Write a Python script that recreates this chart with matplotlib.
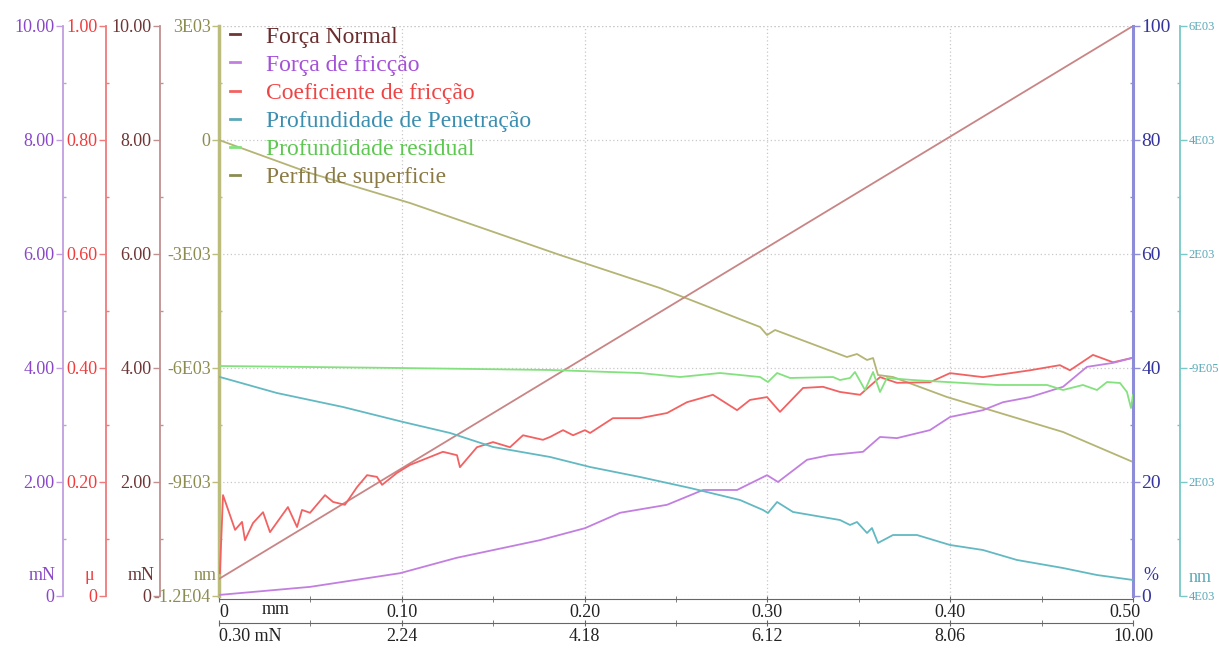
import matplotlib
matplotlib.use("Agg")
import matplotlib.pyplot as plt
from matplotlib.lines import Line2D
from matplotlib.ticker import MultipleLocator, FixedLocator
from matplotlib.transforms import ScaledTranslation

plt.rcParams['font.family'] = ['Liberation Serif', 'DejaVu Serif']

# ---------------- data (x in mm) ----------------
normal_x = [0.0, 0.1, 0.2, 0.3, 0.4, 0.5]
normal_y = [0.30, 2.24, 4.18, 6.12, 8.06, 10.00]          # mN

fric_x = [0.0005, 0.0498, 0.099, 0.130, 0.1756, 0.2002, 0.2194, 0.2451, 0.2648,
          0.2834, 0.2998, 0.3058, 0.3217, 0.3337, 0.3523, 0.3616, 0.3709, 0.3889,
          0.3999, 0.4179, 0.4289, 0.4437, 0.4617, 0.4748, 0.4891, 0.5]
fric_y = [0.02, 0.16, 0.40, 0.67, 0.98, 1.19, 1.46, 1.60, 1.86,
          1.86, 2.12, 2.00, 2.39, 2.47, 2.53, 2.79, 2.77, 2.91,
          3.14, 3.26, 3.40, 3.49, 3.67, 4.02, 4.09, 4.18]   # mN

coef_x = [0.0005, 0.0022, 0.0088, 0.0126, 0.0142, 0.0186, 0.0241, 0.0279, 0.0377,
          0.0427, 0.0454, 0.0498, 0.058, 0.0624, 0.0689, 0.0755, 0.081, 0.0864,
          0.0892, 0.0974, 0.1045, 0.1116, 0.1225, 0.1302, 0.1318, 0.1411, 0.1499,
          0.1592, 0.1663, 0.1772, 0.1811, 0.1882, 0.1937, 0.2002, 0.203, 0.2155,
          0.2303, 0.2451, 0.256, 0.2702, 0.2834, 0.2905, 0.2998, 0.3069, 0.3195,
          0.3304, 0.3397, 0.3507, 0.3616, 0.3709, 0.3889, 0.3999, 0.4179, 0.4437,
          0.46, 0.4655, 0.4781, 0.4891, 0.5]
coef_y = [0.04, 0.177, 0.116, 0.13, 0.098, 0.128, 0.147, 0.112, 0.156,
          0.121, 0.151, 0.146, 0.177, 0.165, 0.16, 0.191, 0.212, 0.209,
          0.195, 0.216, 0.23, 0.239, 0.253, 0.247, 0.226, 0.261, 0.27,
          0.261, 0.282, 0.274, 0.279, 0.291, 0.282, 0.291, 0.286, 0.312,
          0.312, 0.321, 0.34, 0.353, 0.326, 0.344, 0.349, 0.323, 0.365,
          0.367, 0.358, 0.353, 0.384, 0.374, 0.375, 0.391, 0.384, 0.396,
          0.405, 0.396, 0.423, 0.41, 0.418]                     # mu

pen_x = [0.0005, 0.0317, 0.0678, 0.1007, 0.1264, 0.1499, 0.1811, 0.203, 0.2303,
         0.2577, 0.285, 0.2976, 0.3003, 0.3053, 0.314, 0.3397, 0.3452, 0.349,
         0.3545, 0.3572, 0.3605, 0.3687, 0.3818, 0.3999, 0.4179, 0.4365, 0.4617,
         0.4803, 0.5]
pen_y = [-158, -439, -684, -947, -1140, -1386, -1561, -1737, -1912,
         -2105, -2316, -2491, -2544, -2351, -2526, -2667, -2754, -2702,
         -2895, -2807, -3070, -2930, -2930, -3105, -3193, -3368, -3509,
         -3632, -3719]                                           # nm

res_x = [0.0005, 0.099, 0.1811, 0.2303, 0.2522, 0.2741, 0.296, 0.3003, 0.3053,
         0.3124, 0.3359, 0.3397, 0.3452, 0.3479, 0.3534, 0.3578, 0.3616, 0.3654,
         0.3797, 0.3982, 0.4256, 0.453, 0.4617, 0.4726, 0.4803, 0.4858, 0.4929,
         0.4967, 0.4989, 0.5]
res_y = [35, 0, -35, -88, -158, -88, -158, -246, -88,
         -175, -158, -211, -175, -70, -386, -70, -421, -175,
         -211, -246, -298, -298, -386, -298, -386, -246, -263,
         -421, -702, -474]                                       # nm

prof_x = [0.0, 0.0498, 0.1045, 0.1865, 0.2412, 0.296, 0.2998, 0.3042, 0.3435,
          0.349, 0.3545, 0.3578, 0.3605, 0.3687, 0.3982, 0.4218, 0.4617, 0.5]
prof_y = [0, -869, -1658, -3026, -3895, -4921, -5132, -5000, -5711,
          -5632, -5789, -5737, -6184, -6237, -6763, -7105, -7684, -8474]  # nm

x_ticks = [0.0, 0.1, 0.2, 0.3, 0.4, 0.5]
x_labels_mm = ['0', '0.10', '0.20', '0.30', '0.40', '0.50']
x_labels_mn = ['0.30 mN', '2.24', '4.18', '6.12', '8.06', '10.00']

legend_labels = ['Força Normal', 'Força de fricção', 'Coeficiente de fricção',
                 'Profundidade de Penetração', 'Profundidade residual',
                 'Perfil de superficie']

# ---------------- colours ----------------
C_BROWN_L, C_BROWN_T, C_BROWN_S = '#c98585', '#6e3535', '#c09090'
C_PURP_L, C_PURP_T, C_PURP_S = '#c27fe0', '#8a48c8', '#c09ee0'
C_RED_L, C_RED_T, C_RED_S = '#f26262', '#f03c3c', '#f07a7a'
C_TEAL_L, C_TEAL_T, C_TEAL_S = '#62b9c2', '#5aa8b8', '#78c8c8'
C_GREEN_L = '#84e27e'
C_OLIVE_L, C_OLIVE_T, C_OLIVE_S = '#b4b474', '#8c8c50', '#bcbc7c'
C_BLUE_T, C_BLUE_S = '#34349e', '#8c8cd8'
GRID = '#c8c8c8'

W, H = 1219, 650
fig = plt.figure(figsize=(W / 100, H / 100), dpi=100)
L, R, T, B = 219, 1133, 26, 596
ax = fig.add_axes([L / W, 1 - B / H, (R - L) / W, (B - T) / H])
AW = R - L


def style_y(axx, side, pos, spine_c, text_c, ylim, ticks, labels, minor, size=13, lw=1.3):
    axx.set_ylim(*ylim)
    for s in axx.spines.values():
        s.set_visible(False)
    sp = axx.spines[side]
    sp.set_visible(True)
    sp.set_position(('axes', pos))
    sp.set_color(spine_c)
    sp.set_linewidth(lw)
    if side == 'left':
        axx.yaxis.set_ticks_position('left')
    else:
        axx.yaxis.set_ticks_position('right')
    axx.yaxis.set_major_locator(FixedLocator(ticks))
    axx.set_yticklabels(labels)
    axx.yaxis.set_minor_locator(FixedLocator(minor))
    axx.tick_params(axis='y', which='major', colors=spine_c, labelcolor=text_c,
                    length=5, width=1, direction='out', pad=1, labelsize=size)
    axx.tick_params(axis='y', which='minor', colors=spine_c, length=2.5,
                    width=1, direction='in')


# host: olive (surface profile) nm axis
ax.set_xlim(0, 0.5)
style_y(ax, 'left', 0.0, C_OLIVE_S, C_OLIVE_T, (-12000, 3000),
        [-12000, -9000, -6000, -3000, 0, 3000],
        ['-1.2E04', '-9E03', '-6E03', '-3E03', '0', '3E03'],
        [-10500, -7500, -4500, -1500, 1500], lw=2.5)
ax.spines['bottom'].set_visible(True)
ax.spines['bottom'].set_position(('outward', 2))
ax.spines['bottom'].set_color('#666666')
ax.set_xticks(x_ticks)
ax.set_xticklabels(x_labels_mm)
ax.xaxis.set_minor_locator(MultipleLocator(0.05))
ax.tick_params(axis='x', which='major', colors='#666666', labelcolor='#222222',
               length=5, direction='inout', pad=1, labelsize=13)
ax.tick_params(axis='x', which='minor', colors='#666666', length=4, direction='inout')
xl = ax.get_xticklabels()
xl[0].set_ha('left')
xl[-1].set_transform(xl[-1].get_transform() + ScaledTranslation(-8 / 100, 0, fig.dpi_scale_trans))
ax.grid(True, which='major', linestyle=(0, (1, 2)), color=GRID, linewidth=0.9)
ax.plot([0, 0.5], [3000, 3000], linestyle=(0, (1, 2)), color=GRID, linewidth=0.9)
ax.plot(prof_x, prof_y, color=C_OLIVE_L, lw=1.3, zorder=3)
fig.text(262 / W, 1 - 610 / H, 'mm', ha='left', va='center', fontsize=13, color='#222222')

# second x axis (normal force)
axx2 = ax.twiny()
axx2.set_xlim(0, 0.5)
for s in axx2.spines.values():
    s.set_visible(False)
axx2.spines['bottom'].set_visible(True)
axx2.spines['bottom'].set_position(('axes', -(623 - B) / (B - T)))
axx2.spines['bottom'].set_color('#666666')
axx2.xaxis.set_ticks_position('bottom')
axx2.set_xticks(x_ticks)
axx2.set_xticklabels(x_labels_mn)
axx2.xaxis.set_minor_locator(MultipleLocator(0.05))
axx2.tick_params(axis='x', which='major', colors='#666666', labelcolor='#222222',
                 length=5, direction='inout', pad=1, labelsize=13)
axx2.tick_params(axis='x', which='minor', colors='#666666', length=4, direction='inout')
axx2.get_xticklabels()[0].set_ha('left')

# brown: normal force
ax_b = ax.twinx()
style_y(ax_b, 'left', (160 - L) / AW, C_BROWN_S, C_BROWN_T, (0, 10),
        [0, 2, 4, 6, 8, 10], ['0', '2.00', '4.00', '6.00', '8.00', '10.00'],
        [1, 3, 5, 7, 9])
ax_b.plot(normal_x, normal_y, color=C_BROWN_L, lw=1.3)

# red: friction coefficient
ax_r = ax.twinx()
style_y(ax_r, 'left', (106 - L) / AW, C_RED_S, C_RED_T, (0, 1),
        [0, 0.2, 0.4, 0.6, 0.8, 1.0], ['0', '0.20', '0.40', '0.60', '0.80', '1.00'],
        [0.1, 0.3, 0.5, 0.7, 0.9])
ax_r.plot(coef_x, coef_y, color=C_RED_L, lw=1.3)

# purple: friction force
ax_p = ax.twinx()
style_y(ax_p, 'left', (63 - L) / AW, C_PURP_S, C_PURP_T, (0, 10),
        [0, 2, 4, 6, 8, 10], ['0', '2.00', '4.00', '6.00', '8.00', '10.00'],
        [1, 3, 5, 7, 9])
ax_p.plot(fric_x, fric_y, color=C_PURP_L, lw=1.3)

# blue: percent axis
ax_pc = ax.twinx()
style_y(ax_pc, 'right', 1.0, C_BLUE_S, C_BLUE_T, (0, 100),
        [0, 20, 40, 60, 80, 100], ['0', '20', '40', '60', '80', '100'],
        [10, 30, 50, 70, 90], size=14, lw=2.2)

# teal: depth axis
ax_t = ax.twinx()
style_y(ax_t, 'right', (1180 - L) / AW, C_TEAL_S, C_TEAL_T, (-4000, 6000),
        [-4000, -2000, 0, 2000, 4000, 6000],
        ['4E03', '2E03', '-9E05', '2E03', '4E03', '6E03'],
        [-3000, -1000, 1000, 3000, 5000], size=9)
ax_t.plot(pen_x, pen_y, color=C_TEAL_L, lw=1.3)
ax_t.plot(res_x, res_y, color=C_GREEN_L, lw=1.3)

# unit labels
for txt, px, col in [('mN', 42, C_PURP_T), ('μ', 89, C_RED_T), ('mN', 141, C_BROWN_T),
                     ('nm', 205, C_OLIVE_T), ('%', 1151, C_BLUE_T)]:
    fig.text(px / W, 1 - 576 / H, txt, ha='center', va='center', fontsize=13, color=col)
fig.text(1200 / W, 1 - 577 / H, 'nm', ha='center', va='center', fontsize=13, color=C_TEAL_T)

# legend
handles = [Line2D([], [], color=c, lw=2) for c in
           [C_BROWN_T, C_PURP_L, C_RED_L, C_TEAL_T, C_GREEN_L, C_OLIVE_T]]
leg = fig.legend(handles, legend_labels, loc='upper left',
                 bbox_to_anchor=(230 / W, 1 - 26 / H), frameon=False,
                 fontsize=17, handlelength=0.42, handletextpad=1.1,
                 labelspacing=0.28, borderpad=0, borderaxespad=0,
                 labelcolor=['#6a2c2c', '#a450d8', '#f04444', '#3a8eb0', '#5cc850', '#8a7a44'])

fig.savefig('out.png', dpi=100)
